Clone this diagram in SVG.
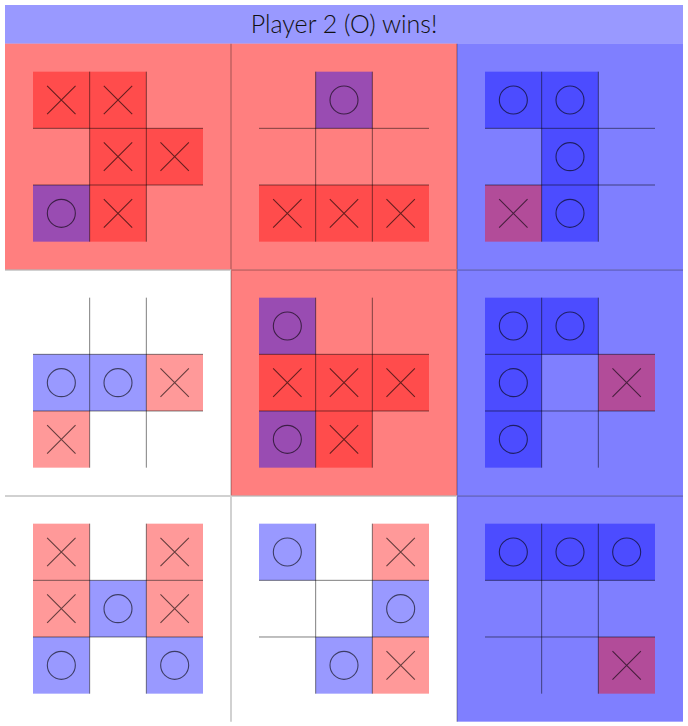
<svg xmlns="http://www.w3.org/2000/svg" xmlns:xlink="http://www.w3.org/1999/xlink" width="688" height="726" viewBox="0 0 688 726">
  <style>
    .bgr { fill: #ff0000; fill-opacity: 0.5; }
    .bgb { fill: #0000ff; fill-opacity: 0.5; }
    .bgw { fill: #ffffff; }
    .r { fill: #ff0000; fill-opacity: 0.4; }
    .b { fill: #0000ff; fill-opacity: 0.4; }
    .gl { stroke: #000; stroke-opacity: 0.5; stroke-width: 1; fill: none; }
    .mk { stroke: #000; stroke-opacity: 0.6; stroke-width: 1.1; fill: none; }
    .div { stroke: #000; stroke-opacity: 0.18; stroke-width: 2; fill: none; }
    .title { font-family: Lato, "Open Sans", sans-serif; font-size: 25px; font-weight: 300; fill: #111111; }
  </style>
  <defs>
    <path id="X" class="mk" d="M-14.2,-14.2 L14.2,14.2 M14.2,-14.2 L-14.2,14.2"/>
    <circle id="O" class="mk" cx="0" cy="0" r="14"/>
    <g id="grid">
      <path class="gl" d="M84.667,28 V198 M141.333,28 V198 M28,84.667 H198 M28,141.333 H198"/>
    </g>
  </defs>

  <g id="header">
    <rect x="5" y="5" width="678" height="38.667" fill="#9999ff"/>
    <text class="title" x="344" y="33.3" text-anchor="middle">Player 2 (O) wins!</text>
  </g>

  <g id="board-0-0" transform="translate(5,43.667)">
    <rect class="bgr" width="226" height="226"/>
    <rect class="r" x="28" y="28" width="56.667" height="56.667"/>
    <rect class="r" x="84.667" y="28" width="56.667" height="56.667"/>
    <rect class="r" x="84.667" y="84.667" width="56.667" height="56.667"/>
    <rect class="r" x="141.333" y="84.667" width="56.667" height="56.667"/>
    <rect class="r" x="84.667" y="141.333" width="56.667" height="56.667"/>
    <rect class="b" x="28" y="141.333" width="56.667" height="56.667"/>
    <use href="#grid"/>
    <use href="#X" x="56.333" y="56.333"/>
    <use href="#X" x="113" y="56.333"/>
    <use href="#X" x="113" y="113"/>
    <use href="#X" x="169.667" y="113"/>
    <use href="#X" x="113" y="169.667"/>
    <use href="#O" x="56.333" y="169.667"/>
  </g>

  <g id="board-0-1" transform="translate(231,43.667)">
    <rect class="bgr" width="226" height="226"/>
    <rect class="b" x="84.667" y="28" width="56.667" height="56.667"/>
    <rect class="r" x="28" y="141.333" width="56.667" height="56.667"/>
    <rect class="r" x="84.667" y="141.333" width="56.667" height="56.667"/>
    <rect class="r" x="141.333" y="141.333" width="56.667" height="56.667"/>
    <use href="#grid"/>
    <use href="#O" x="113" y="56.333"/>
    <use href="#X" x="56.333" y="169.667"/>
    <use href="#X" x="113" y="169.667"/>
    <use href="#X" x="169.667" y="169.667"/>
  </g>

  <g id="board-0-2" transform="translate(457,43.667)">
    <rect class="bgb" width="226" height="226"/>
    <rect class="b" x="28" y="28" width="56.667" height="56.667"/>
    <rect class="b" x="84.667" y="28" width="56.667" height="56.667"/>
    <rect class="b" x="84.667" y="84.667" width="56.667" height="56.667"/>
    <rect class="b" x="84.667" y="141.333" width="56.667" height="56.667"/>
    <rect class="r" x="28" y="141.333" width="56.667" height="56.667"/>
    <use href="#grid"/>
    <use href="#O" x="56.333" y="56.333"/>
    <use href="#O" x="113" y="56.333"/>
    <use href="#O" x="113" y="113"/>
    <use href="#O" x="113" y="169.667"/>
    <use href="#X" x="56.333" y="169.667"/>
  </g>

  <g id="board-1-0" transform="translate(5,269.667)">
    <rect class="bgw" width="226" height="226"/>
    <rect class="b" x="28" y="84.667" width="56.667" height="56.667"/>
    <rect class="b" x="84.667" y="84.667" width="56.667" height="56.667"/>
    <rect class="r" x="141.333" y="84.667" width="56.667" height="56.667"/>
    <rect class="r" x="28" y="141.333" width="56.667" height="56.667"/>
    <use href="#grid"/>
    <use href="#O" x="56.333" y="113"/>
    <use href="#O" x="113" y="113"/>
    <use href="#X" x="169.667" y="113"/>
    <use href="#X" x="56.333" y="169.667"/>
  </g>

  <g id="board-1-1" transform="translate(231,269.667)">
    <rect class="bgr" width="226" height="226"/>
    <rect class="b" x="28" y="28" width="56.667" height="56.667"/>
    <rect class="b" x="28" y="141.333" width="56.667" height="56.667"/>
    <rect class="r" x="28" y="84.667" width="56.667" height="56.667"/>
    <rect class="r" x="84.667" y="84.667" width="56.667" height="56.667"/>
    <rect class="r" x="141.333" y="84.667" width="56.667" height="56.667"/>
    <rect class="r" x="84.667" y="141.333" width="56.667" height="56.667"/>
    <use href="#grid"/>
    <use href="#O" x="56.333" y="56.333"/>
    <use href="#O" x="56.333" y="169.667"/>
    <use href="#X" x="56.333" y="113"/>
    <use href="#X" x="113" y="113"/>
    <use href="#X" x="169.667" y="113"/>
    <use href="#X" x="113" y="169.667"/>
  </g>

  <g id="board-1-2" transform="translate(457,269.667)">
    <rect class="bgb" width="226" height="226"/>
    <rect class="b" x="28" y="28" width="56.667" height="56.667"/>
    <rect class="b" x="84.667" y="28" width="56.667" height="56.667"/>
    <rect class="b" x="28" y="84.667" width="56.667" height="56.667"/>
    <rect class="b" x="28" y="141.333" width="56.667" height="56.667"/>
    <rect class="r" x="141.333" y="84.667" width="56.667" height="56.667"/>
    <use href="#grid"/>
    <use href="#O" x="56.333" y="56.333"/>
    <use href="#O" x="113" y="56.333"/>
    <use href="#O" x="56.333" y="113"/>
    <use href="#O" x="56.333" y="169.667"/>
    <use href="#X" x="169.667" y="113"/>
  </g>

  <g id="board-2-0" transform="translate(5,495.667)">
    <rect class="bgw" width="226" height="226"/>
    <rect class="r" x="28" y="28" width="56.667" height="56.667"/>
    <rect class="r" x="141.333" y="28" width="56.667" height="56.667"/>
    <rect class="r" x="28" y="84.667" width="56.667" height="56.667"/>
    <rect class="r" x="141.333" y="84.667" width="56.667" height="56.667"/>
    <rect class="b" x="84.667" y="84.667" width="56.667" height="56.667"/>
    <rect class="b" x="28" y="141.333" width="56.667" height="56.667"/>
    <rect class="b" x="141.333" y="141.333" width="56.667" height="56.667"/>
    <use href="#grid"/>
    <use href="#X" x="56.333" y="56.333"/>
    <use href="#X" x="169.667" y="56.333"/>
    <use href="#X" x="56.333" y="113"/>
    <use href="#X" x="169.667" y="113"/>
    <use href="#O" x="113" y="113"/>
    <use href="#O" x="56.333" y="169.667"/>
    <use href="#O" x="169.667" y="169.667"/>
  </g>

  <g id="board-2-1" transform="translate(231,495.667)">
    <rect class="bgw" width="226" height="226"/>
    <rect class="b" x="28" y="28" width="56.667" height="56.667"/>
    <rect class="b" x="141.333" y="84.667" width="56.667" height="56.667"/>
    <rect class="b" x="84.667" y="141.333" width="56.667" height="56.667"/>
    <rect class="r" x="141.333" y="28" width="56.667" height="56.667"/>
    <rect class="r" x="141.333" y="141.333" width="56.667" height="56.667"/>
    <use href="#grid"/>
    <use href="#O" x="56.333" y="56.333"/>
    <use href="#O" x="169.667" y="113"/>
    <use href="#O" x="113" y="169.667"/>
    <use href="#X" x="169.667" y="56.333"/>
    <use href="#X" x="169.667" y="169.667"/>
  </g>

  <g id="board-2-2" transform="translate(457,495.667)">
    <rect class="bgb" width="226" height="226"/>
    <rect class="b" x="28" y="28" width="56.667" height="56.667"/>
    <rect class="b" x="84.667" y="28" width="56.667" height="56.667"/>
    <rect class="b" x="141.333" y="28" width="56.667" height="56.667"/>
    <rect class="r" x="141.333" y="141.333" width="56.667" height="56.667"/>
    <use href="#grid"/>
    <use href="#O" x="56.333" y="56.333"/>
    <use href="#O" x="113" y="56.333"/>
    <use href="#O" x="169.667" y="56.333"/>
    <use href="#X" x="169.667" y="169.667"/>
  </g>

  <g id="dividers">
    <path class="div" d="M231,43.667 V721.667 M457,43.667 V721.667 M5,270 H683 M5,496 H683"/>
  </g>
</svg>
